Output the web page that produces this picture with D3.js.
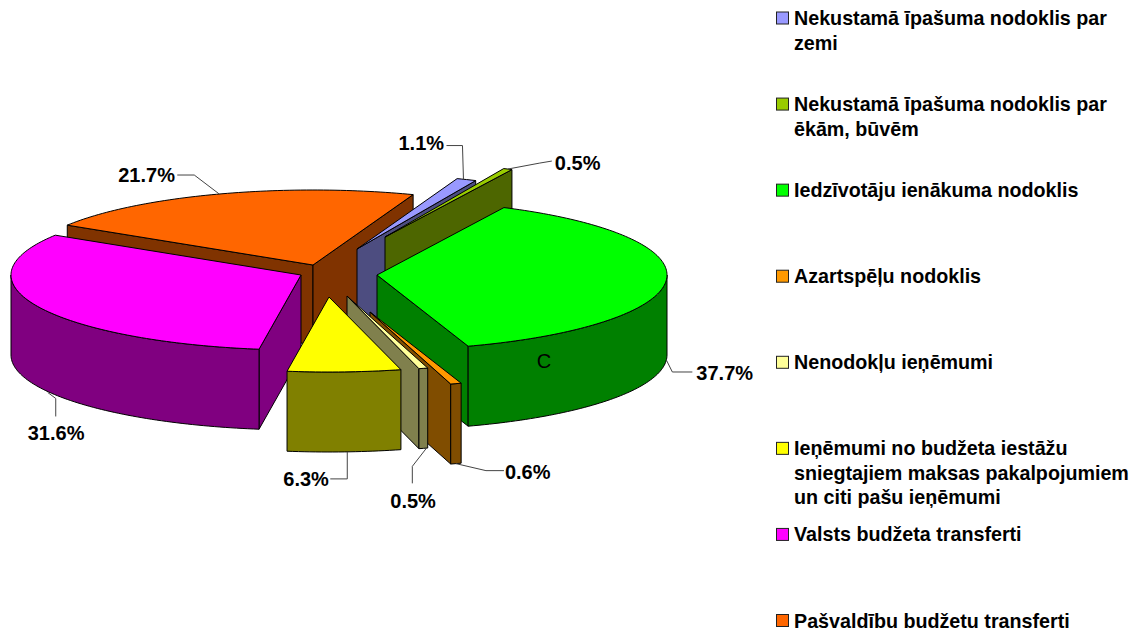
<!DOCTYPE html>
<html>
<head>
<meta charset="utf-8">
<script src="https://cdn.jsdelivr.net/npm/d3@7"></script>
<style>
  body { margin: 0; background: #fff; }
  text { font-family: "Liberation Sans", Arial, sans-serif; }
</style>
</head>
<body>
<div id="chart"></div>
<script>
const categories = [
  "Nekustamā īpašuma nodoklis par|zemi",
  "Nekustamā īpašuma nodoklis par|ēkām, būvēm",
  "Iedzīvotāju ienākuma nodoklis",
  "Azartspēļu nodoklis",
  "Nenodokļu ieņēmumi",
  "Ieņēmumi no budžeta iestāžu|sniegtajiem maksas pakalpojumiem|un citi pašu ieņēmumi",
  "Valsts budžeta transferti",
  "Pašvaldību budžetu transferti"
];
const shares = [1.1, 0.5, 37.7, 0.6, 0.5, 6.3, 31.6, 21.7];
const colors = ["#9999FF", "#99CC00", "#00FF00", "#FF9900", "#FFFF99", "#FFFF00", "#FF00FF", "#FF6600"];

// how far each slice is pulled out of the pie, [x, y]
const explode = [[35, -24], [63, -36], [55, 2], [48, 39], [25, 23], [7, 24], [-21, 2], [-9, -8]];
// back to front
const drawOrder = [7, 0, 1, 2, 3, 4, 6, 5];
// leader elbows and label corner, relative to the point on the rim
const leaders = [
  [[-3, 0], [-4, -34], [-20, -34]],
  [[0, 0], [32, -6], [44, -8]],
  [[0, 0], [6, 12], [26, 12]],
  [[0, 0], [30, 7], [48, 7]],
  [[3, 0], [-11, 18], [-11, 35]],
  [[3, 0], [3, 27], [-14, 27]],
  [[10, 6], [18, 12], [18, 30]],
  [[0, 0], [-25, -19], [-42, -19]]
];
const labelOffsets = [[-68, -30], [47, 1], [30, 20], [49, 15], [-33, 60], [-61, 34], [-10, 54], [-101, -12]];

const width = 1140, height = 632;
const cx = 322, cy = 273, R = 290, ry = 75, depth = 80;

const svg = d3.select("#chart").append("svg")
  .attr("width", width)
  .attr("height", height);

// x and y on the tilted disc
const xScale = d3.scaleLinear().domain([-1, 1]).range([-R, R]);
const yScale = d3.scaleLinear().domain([-1, 1]).range([-ry, ry]);

function pt(angle, ox, oy, z) {
  return [ox + xScale(Math.sin(angle)), oy + yScale(-Math.cos(angle)) + z];
}

const pie = d3.pie().sort(null)
  .startAngle(20.2 * Math.PI / 180)
  .endAngle(380.2 * Math.PI / 180);
const slices = pie(shares);

const line = d3.line();
const closed = pts => line(pts) + "Z";

function rim(a0, a1, ox, oy, z) {
  const n = Math.max(2, Math.ceil((a1 - a0) / 0.02));
  return d3.range(n + 1).map(i => pt(a0 + (a1 - a0) * i / n, ox, oy, z));
}

function shade(c) {
  const rgb = d3.rgb(c);
  return d3.rgb(rgb.r / 2, rgb.g / 2, rgb.b / 2).formatHex();
}

const pieGroup = svg.append("g")
  .attr("stroke", "#000")
  .attr("stroke-width", 1)
  .attr("stroke-linejoin", "round");

drawOrder.forEach(i => {
  const s = slices[i];
  const ox = cx + explode[i][0];
  const oy = cy + explode[i][1];
  const apex = [ox, oy];
  const g = pieGroup.append("g");
  const dark = shade(colors[i]);

  // cut faces
  [[s.startAngle, Math.sin(s.startAngle) < 0], [s.endAngle, Math.sin(s.endAngle) > 0]].forEach(f => {
    if (!f[1]) return;
    const p = pt(f[0], ox, oy, 0);
    g.append("path")
      .attr("fill", dark)
      .attr("d", closed([apex, p, [p[0], p[1] + depth], [ox, oy + depth]]));
  });

  // outer wall, only the front half shows
  const a0 = Math.max(s.startAngle, Math.PI / 2);
  const a1 = Math.min(s.endAngle, Math.PI * 1.5);
  if (a1 > a0) {
    g.append("path")
      .attr("fill", dark)
      .attr("d", closed(rim(a0, a1, ox, oy, 0).concat(rim(a0, a1, ox, oy, depth).reverse())));
  }

  g.append("path")
    .attr("fill", colors[i])
    .attr("d", closed([apex].concat(rim(s.startAngle, s.endAngle, ox, oy, 0))));
});

// data labels
const fmt = d3.format(".1f");
slices.forEach((s, i) => {
  const mid = (s.startAngle + s.endAngle) / 2;
  const front = Math.cos(mid) < 0 || Math.sin(mid) === 1;
  const anchor = pt(mid, cx + explode[i][0], cy + explode[i][1], front ? depth : 0);

  svg.append("path")
    .attr("fill", "none")
    .attr("stroke", "#444")
    .attr("stroke-width", 1)
    .attr("d", line(leaders[i].map(d => [anchor[0] + d[0], anchor[1] + d[1]])));

  svg.append("text")
    .attr("x", anchor[0] + labelOffsets[i][0])
    .attr("y", anchor[1] + labelOffsets[i][1])
    .attr("font-size", 20)
    .attr("font-weight", "bold")
    .text(fmt(shares[i]) + "%");
});

svg.append("text")
  .attr("x", 544)
  .attr("y", 368)
  .attr("text-anchor", "middle")
  .attr("font-size", 20)
  .text("C");

// legend
const legendY = d3.scalePoint().domain(categories).range([18, 620.5]);
const legend = svg.selectAll("g.legend")
  .data(categories)
  .join("g")
  .attr("class", "legend")
  .attr("transform", d => `translate(776,${legendY(d)})`);

legend.append("rect")
  .attr("x", 0.5)
  .attr("y", -6)
  .attr("width", 12)
  .attr("height", 12)
  .attr("fill", (d, i) => colors[i])
  .attr("stroke", "#222");

legend.each(function(d) {
  d3.select(this).selectAll("text")
    .data(d.split("|"))
    .join("text")
    .attr("x", 18)
    .attr("y", (t, j) => 7 + j * 24.5)
    .attr("font-size", 19.7)
    .attr("font-weight", "bold")
    .text(t => t);
});
</script>
</body>
</html>
